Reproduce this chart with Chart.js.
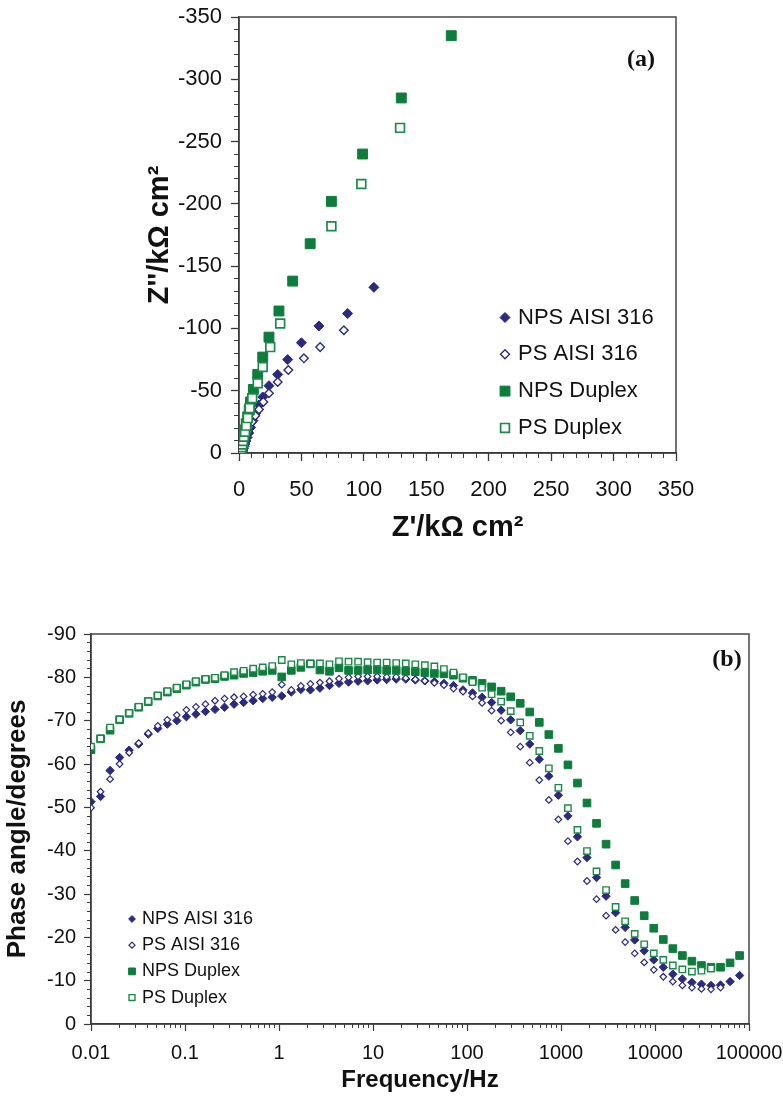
<!DOCTYPE html>
<html>
<head>
<meta charset="utf-8">
<title>Nyquist and Bode phase plots</title>
<script src="https://cdn.jsdelivr.net/npm/chart.js@4.4.1/dist/chart.umd.min.js"></script>
<style>
  html, body { margin: 0; padding: 0; background: #fff; }
  #wrapA { position: absolute; left: 0; top: 0; width: 783px; height: 560px; }
  #wrapB { position: absolute; left: 0; top: 600px; width: 783px; height: 500px; }
</style>
</head>
<body>
<div id="wrapA"><canvas id="nyquist" width="783" height="560"></canvas></div>
<div id="wrapB"><canvas id="bode" width="783" height="500"></canvas></div>
<script>
// series names, same order in both panels
const seriesNames = ['NPS AISI 316', 'PS AISI 316', 'NPS Duplex', 'PS Duplex'];

// (a) Nyquist: Z' (kOhm cm2) and Z'' (kOhm cm2, negative)
const nyqReNps316 = [2.5, 2.6, 2.8, 3.1, 3.5, 4.0, 4.7, 5.5, 6.5, 7.8, 9.3, 11.2, 13.5, 16, 19, 24, 31, 39, 50, 64, 87, 108];
const nyqImNps316 = [-0.3, -0.8, -1.5, -2.4, -3.6, -5.2, -7.2, -9.6, -12.5, -16, -20.5, -26, -32, -38.5, -45, -54, -63, -75, -88.5, -102, -112, -133];
const nyqRePs316 = [1.8, 1.9, 2.0, 2.2, 2.5, 2.9, 3.5, 4.3, 5.5, 7, 8.5, 10.5, 13, 16, 19.5, 24, 31, 39.5, 52, 65, 84];
const nyqImPs316 = [-0.4, -1, -1.8, -2.9, -4.3, -6, -8, -10.5, -13.5, -17, -21, -25, -30, -35, -41, -48, -57, -66.6, -76, -85, -98.5];
const nyqReNpsDuplex = [1.2, 1.4, 1.7, 2.1, 2.6, 3.2, 3.9, 4.8, 5.8, 7, 8.2, 9.2, 11.5, 15, 19, 24, 32, 43, 57, 74, 99, 130, 170];
const nyqImNpsDuplex = [-0.5, -1.5, -3, -5, -7.5, -10.5, -14, -18.5, -23.5, -29, -34.5, -41, -51, -63, -77, -93, -114, -138, -168, -202, -240, -285, -335];
const nyqRePsDuplex = [1.2, 1.4, 1.7, 2.1, 2.6, 3.2, 3.9, 4.8, 5.8, 7, 8.5, 10.6, 15, 19, 25, 33, 74, 98, 129];
const nyqImPsDuplex = [-0.5, -1.4, -2.8, -4.6, -6.9, -9.7, -13, -17, -22, -28, -36, -44, -56, -69, -85, -104, -182, -216, -261];

const nyqXTickValues = [0, 50, 100, 150, 200, 250, 300, 350];
const nyqXTickLabels = ['0', '50', '100', '150', '200', '250', '300', '350'];
const nyqYTickValues = [-350, -300, -250, -200, -150, -100, -50, 0];
const nyqYTickLabels = ['-350', '-300', '-250', '-200', '-150', '-100', '-50', '0'];

// (b) Bode phase: frequency (Hz) and phase angle (degrees)
const bodeFreq = [0.01, 0.01264, 0.01596, 0.02016, 0.02546, 0.03216, 0.04063, 0.05131, 0.06482, 0.08188,
  0.1034, 0.1306, 0.165, 0.2085, 0.2633, 0.3326, 0.4202, 0.5309, 0.6706, 0.8471,
  1.07, 1.352, 1.708, 2.157, 2.725, 3.442, 4.348, 5.493, 6.939, 8.763,
  11.07, 13.98, 17.66, 22.31, 28.18, 35.6, 44.97, 56.81, 71.76, 90.65,
  114.5, 144.6, 182.7, 230.8, 291.6, 368.3, 465.3, 587.7, 742.4, 937.8,
  1185, 1496, 1890, 2388, 3016, 3810, 4813, 6080, 7680, 9700,
  12255, 15480, 19554, 24701, 31202, 39415, 49789, 62894, 79433];
const phaseNps316 = [-51.3, -52.5, -58.5, -61.5, -63.2, -64.6, -66.9, -68.2, -69.2, -70.0,
  -70.9, -71.5, -72.1, -72.6, -73.1, -73.8, -74.2, -74.6, -75.1, -75.4,
  -75.7, -76.6, -77.2, -77.1, -77.5, -78.1, -78.6, -78.9, -79.1, -79.2,
  -79.4, -79.5, -79.6, -79.6, -79.4, -79.2, -79.0, -78.6, -78.1, -77.1,
  -76.4, -75.4, -74.2, -72.4, -70.2, -67.7, -64.6, -61.1, -57.2, -52.8,
  -48.0, -43.2, -38.4, -33.8, -29.5, -25.7, -22.3, -19.4, -16.9, -14.8,
  -13.1, -11.5, -10.4, -9.6, -9.2, -8.9, -9.0, -9.8, -11.2];
const phasePs316 = [-49.9, -53.6, -56.5, -60.0, -62.6, -64.8, -67.1, -68.8, -70.2, -71.3,
  -72.5, -73.2, -73.8, -74.6, -75.1, -75.4, -75.6, -76.0, -76.2, -76.6,
  -78.3, -77.1, -78.0, -78.5, -78.8, -79.1, -79.7, -80.0, -80.2, -80.2,
  -80.2, -80.1, -80.1, -79.8, -79.5, -79.2, -78.7, -78.2, -77.4, -76.7,
  -75.6, -74.1, -72.3, -70.0, -67.3, -64.0, -60.3, -56.3, -51.7, -47.2,
  -42.2, -37.5, -33.0, -28.8, -25.0, -21.7, -18.9, -16.3, -14.2, -12.5,
  -10.9, -9.8, -8.9, -8.4, -8.1, -8.0, -8.4];
const phaseNpsDuplex = [-63.3, -65.8, -67.8, -70.2, -71.7, -73.1, -74.4, -75.7, -76.6, -77.4,
  -78.2, -78.9, -79.5, -79.7, -80.2, -80.5, -80.9, -81.1, -81.4, -81.6,
  -80.1, -81.6, -82.3, -83.1, -81.7, -81.4, -82.2, -81.6, -81.6, -81.7,
  -81.7, -81.6, -81.6, -81.4, -81.3, -81.1, -80.9, -80.8, -80.5, -79.8,
  -79.3, -78.6, -77.8, -76.8, -75.5, -74.0, -72.0, -69.6, -66.8, -63.6,
  -59.8, -55.6, -51.0, -46.3, -41.5, -36.7, -32.4, -28.5, -25.0, -22.1,
  -19.5, -17.4, -15.8, -14.5, -13.5, -13.1, -13.1, -14.1, -15.8];
const phasePsDuplex = [-64.0, -65.9, -68.4, -70.3, -71.8, -73.2, -74.5, -75.8, -76.8, -77.6,
  -78.4, -79.1, -79.6, -79.9, -80.5, -81.2, -81.5, -82.0, -82.3, -82.6,
  -84.0, -83.0, -83.3, -83.2, -83.2, -83.0, -83.7, -83.6, -83.6, -83.5,
  -83.4, -83.4, -83.3, -83.2, -83.0, -82.8, -82.5, -81.9, -81.1, -80.0,
  -78.9, -77.6, -76.1, -74.4, -72.2, -69.6, -66.5, -63.0, -59.0, -54.5,
  -49.8, -44.8, -39.9, -35.2, -30.9, -27.0, -23.7, -20.8, -18.4, -16.3,
  -14.8, -13.5, -12.6, -12.1, -12.3, -12.8];

const bodeXTickValues = [0.01, 0.1, 1, 10, 100, 1000, 10000, 100000];
const bodeXTickLabels = ['0.01', '0.1', '1', '10', '100', '1000', '10000', '100000'];
const bodeYTickValues = [-90, -80, -70, -60, -50, -40, -30, -20, -10, 0];
const bodeYTickLabels = ['-90', '-80', '-70', '-60', '-50', '-40', '-30', '-20', '-10', '0'];

// styling
const NAVY = '#2b2a7f';
const GREEN = '#0e7d3c';
const GREEN_LINE = '#1b8a47';
const AXIS_COLOR = '#3a3a3a';
const TEXT_COLOR = '#111111';
const FONT = '"Liberation Sans", Arial, Helvetica, sans-serif';
const SERIF = '"Liberation Serif", "Times New Roman", serif';

const seriesShapes = ['rectRot', 'rectRot', 'rect', 'rect'];
const seriesFills = [NAVY, '#ffffff', GREEN, '#ffffff'];
const seriesStrokes = [NAVY, NAVY, GREEN, GREEN_LINE];

Chart.defaults.font.family = FONT;
Chart.defaults.color = TEXT_COLOR;

// minor tick positions
const nyqMinor = [];
for (let v = 0; v <= 350; v += 10) nyqMinor.push(v);
const nyqMinorNeg = nyqMinor.map(v => -v);
const bodeMinorY = [];
for (let v = -90; v <= 0; v += 2) bodeMinorY.push(v);
const bodeMinorX = [];
for (let d = 0; d < bodeXTickValues.length - 1; d++) {
    for (let m = 1; m <= 9; m++) {
        bodeMinorX.push(+(bodeXTickValues[d] * m).toPrecision(6));
    }
}
bodeMinorX.push(bodeXTickValues[bodeXTickValues.length - 1]);

function toPoints(xs, ys) {
    return ys.map((y, i) => ({ x: xs[i], y: y }));
}

function labelFrom(values, labels) {
    return function (v) {
        const i = values.indexOf(v);
        return i < 0 ? '' : labels[i];
    };
}

function fixTicks(values) {
    return function (scale) {
        scale.ticks = values.map(v => ({ value: v }));
    };
}

function fixSize(prop, size) {
    return function (scale) {
        scale[prop] = size;
        scale.paddingLeft = 0;
        scale.paddingRight = 0;
        scale.paddingTop = 0;
        scale.paddingBottom = 0;
    };
}

function makeSets(pointsList, radii, widths) {
    return seriesNames.map((name, i) => ({
        label: name,
        data: pointsList[i],
        xAxisID: 'x',
        yAxisID: 'y',
        showLine: false,
        pointStyle: seriesShapes[i],
        pointRadius: radii[i],
        pointBorderWidth: widths[i],
        pointBackgroundColor: seriesFills[i],
        pointBorderColor: seriesStrokes[i],
        order: seriesNames.length - 1 - i
    }));
}

function minorAxis(type, position, min, max, values, reverse, tickLength) {
    return {
        type: type,
        position: position,
        weight: 0,
        min: min,
        max: max,
        reverse: reverse,
        afterBuildTicks: fixTicks(values),
        afterFit: fixSize(position === 'left' ? 'width' : 'height', 0),
        border: { display: false },
        grid: { drawOnChartArea: false, tickLength: tickLength, tickColor: AXIS_COLOR, tickWidth: 1 },
        ticks: { display: false }
    };
}

// plot frame (top and right sides too)
const frameBox = {
    id: 'frameBox',
    beforeDatasetsDraw(chart) {
        const a = chart.chartArea;
        const ctx = chart.ctx;
        ctx.save();
        ctx.strokeStyle = AXIS_COLOR;
        ctx.lineWidth = 1.4;
        ctx.strokeRect(a.left, a.top, a.right - a.left, a.bottom - a.top);
        ctx.restore();
    }
};

// legend drawn inside the plot area
const insideLegend = {
    id: 'insideLegend',
    afterDatasetsDraw(chart, args, opts) {
        const a = chart.chartArea;
        const ctx = chart.ctx;
        ctx.save();
        ctx.font = opts.font;
        ctx.textBaseline = 'middle';
        ctx.textAlign = 'left';
        chart.data.datasets.forEach((ds, i) => {
            const x = a.left + opts.x;
            const y = a.top + opts.y + i * opts.gap;
            ctx.fillStyle = ds.pointBackgroundColor;
            ctx.strokeStyle = ds.pointBorderColor;
            ctx.lineWidth = ds.pointBorderWidth;
            Chart.helpers.drawPoint(ctx, {
                pointStyle: ds.pointStyle,
                rotation: 0,
                radius: opts.radii[i],
                borderWidth: ds.pointBorderWidth
            }, x, y);
            ctx.fillStyle = TEXT_COLOR;
            ctx.fillText(ds.label, x + opts.textGap, y);
        });
        ctx.restore();
    }
};

// panel letter, (a) / (b)
const panelTag = {
    id: 'panelTag',
    afterDatasetsDraw(chart, args, opts) {
        const a = chart.chartArea;
        const ctx = chart.ctx;
        ctx.save();
        ctx.font = opts.font;
        ctx.fillStyle = TEXT_COLOR;
        ctx.textAlign = 'center';
        ctx.textBaseline = 'middle';
        ctx.fillText(opts.text, a.right + opts.dx, a.top + opts.dy);
        ctx.restore();
    }
};

// ---------- (a) Nyquist ----------
new Chart(document.getElementById('nyquist'), {
    type: 'scatter',
    data: {
        datasets: makeSets([
            toPoints(nyqReNps316, nyqImNps316),
            toPoints(nyqRePs316, nyqImPs316),
            toPoints(nyqReNpsDuplex, nyqImNpsDuplex),
            toPoints(nyqRePsDuplex, nyqImPsDuplex)
        ], [5, 4.3, 7, 6.2], [1, 1.4, 1, 1.7])
    },
    options: {
        responsive: false,
        animation: false,
        devicePixelRatio: 1,
        events: [],
        layout: { padding: { left: 0, top: 17, right: 107, bottom: 0 } },
        scales: {
            x: {
                type: 'linear',
                position: 'bottom',
                weight: 1,
                min: 0,
                max: 350,
                afterBuildTicks: fixTicks(nyqXTickValues),
                afterFit: fixSize('height', 107),
                border: { color: AXIS_COLOR, width: 1.4 },
                grid: { drawOnChartArea: false, tickLength: 8, tickColor: AXIS_COLOR, tickWidth: 1.3 },
                ticks: { autoSkip: false, maxRotation: 0, padding: 16, color: TEXT_COLOR, font: { size: 22 },
                    callback: labelFrom(nyqXTickValues, nyqXTickLabels) },
                title: { display: true, text: "Z'/kΩ cm²", color: TEXT_COLOR,
                    font: { size: 29, weight: 'bold' }, padding: { top: 0, bottom: 14.6 } }
            },
            xMinor: minorAxis('linear', 'bottom', 0, 350, nyqMinor, false, 5),
            y: {
                type: 'linear',
                position: 'left',
                weight: 1,
                min: -350,
                max: 0,
                reverse: true,
                afterBuildTicks: fixTicks(nyqYTickValues),
                afterFit: fixSize('width', 239),
                border: { color: AXIS_COLOR, width: 1.4 },
                grid: { drawOnChartArea: false, tickLength: 8, tickColor: AXIS_COLOR, tickWidth: 1.3 },
                ticks: { autoSkip: false, padding: 9, color: TEXT_COLOR, font: { size: 22 },
                    callback: labelFrom(nyqYTickValues, nyqYTickLabels) },
                title: { display: true, text: "Z''/kΩ cm²", color: TEXT_COLOR,
                    font: { size: 29, weight: 'bold' }, padding: { top: 143, bottom: 0 } }
            },
            yMinor: minorAxis('linear', 'left', -350, 0, nyqMinorNeg, true, 5)
        },
        plugins: {
            legend: { display: false },
            tooltip: { enabled: false },
            insideLegend: { x: 266, y: 300.5, gap: 36.8, textGap: 13, font: '22px ' + FONT, radii: [5, 4.5, 7, 6.2] },
            panelTag: { text: '(a)', dx: -35, dy: 43, font: 'bold 24px ' + SERIF }
        }
    },
    plugins: [frameBox, insideLegend, panelTag]
});

// ---------- (b) Bode phase ----------
new Chart(document.getElementById('bode'), {
    type: 'scatter',
    data: {
        datasets: makeSets([
            toPoints(bodeFreq, phaseNps316),
            toPoints(bodeFreq, phasePs316),
            toPoints(bodeFreq, phaseNpsDuplex),
            toPoints(bodeFreq, phasePsDuplex)
        ], [4.2, 3.3, 5.4, 4.5], [1, 1.2, 1, 1.4])
    },
    options: {
        responsive: false,
        animation: false,
        devicePixelRatio: 1,
        events: [],
        layout: { padding: { left: 0, top: 34, right: 34, bottom: 0 } },
        scales: {
            x: {
                type: 'logarithmic',
                position: 'bottom',
                weight: 1,
                min: 0.01,
                max: 100000,
                afterBuildTicks: fixTicks(bodeXTickValues),
                afterFit: fixSize('height', 76),
                border: { color: AXIS_COLOR, width: 1.4 },
                grid: { drawOnChartArea: false, tickLength: 7, tickColor: AXIS_COLOR, tickWidth: 1.2 },
                ticks: { autoSkip: false, maxRotation: 0, padding: 10, color: TEXT_COLOR, font: { size: 20 },
                    callback: labelFrom(bodeXTickValues, bodeXTickLabels) },
                title: { display: true, text: 'Frequency/Hz', color: TEXT_COLOR,
                    font: { size: 24, weight: 'bold' }, padding: { top: 0, bottom: 5.6 } }
            },
            xMinor: minorAxis('logarithmic', 'bottom', 0.01, 100000, bodeMinorX, false, 4),
            y: {
                type: 'linear',
                position: 'left',
                weight: 1,
                min: -90,
                max: 0,
                reverse: true,
                afterBuildTicks: fixTicks(bodeYTickValues),
                afterFit: fixSize('width', 91),
                border: { color: AXIS_COLOR, width: 1.4 },
                grid: { drawOnChartArea: false, tickLength: 7, tickColor: AXIS_COLOR, tickWidth: 1.2 },
                ticks: { autoSkip: false, padding: 8, color: TEXT_COLOR, font: { size: 20 },
                    callback: labelFrom(bodeYTickValues, bodeYTickLabels) },
                title: { display: true, text: 'Phase angle/degrees', color: TEXT_COLOR,
                    font: { size: 26, weight: 'bold' }, padding: { top: 2.4, bottom: 0 } }
            },
            yMinor: minorAxis('linear', 'left', -90, 0, bodeMinorY, true, 4)
        },
        plugins: {
            legend: { display: false },
            tooltip: { enabled: false },
            insideLegend: { x: 41, y: 285, gap: 26.2, textGap: 10, font: '18px ' + FONT, radii: [3.4, 3, 4.8, 4.2] },
            panelTag: { text: '(b)', dx: -22, dy: 26, font: 'bold 24px ' + SERIF }
        }
    },
    plugins: [frameBox, insideLegend, panelTag]
});
</script>
</body>
</html>
